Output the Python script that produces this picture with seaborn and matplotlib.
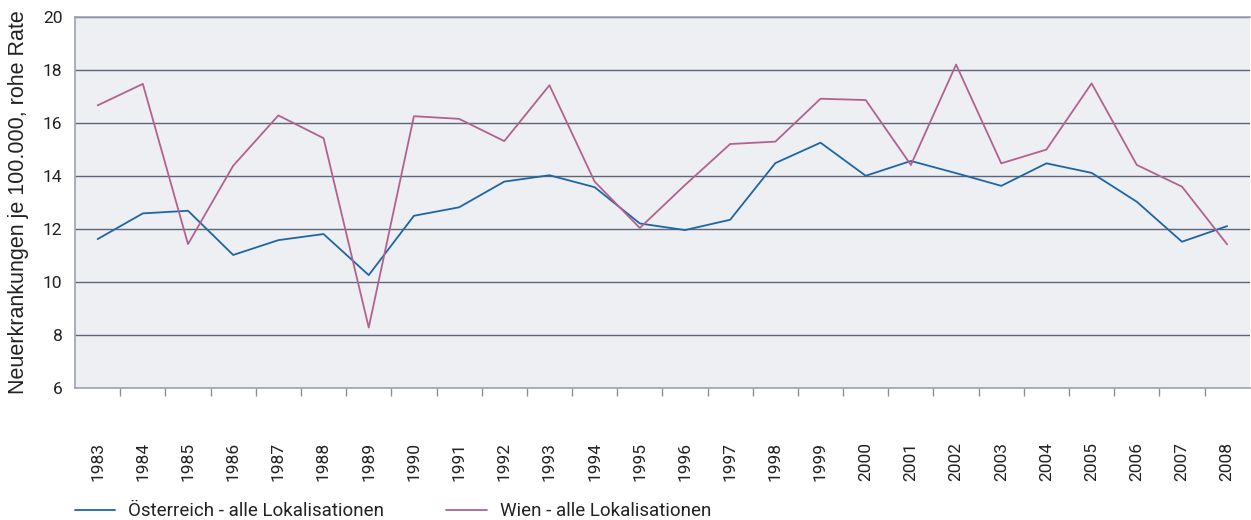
import matplotlib
matplotlib.use("Agg")
import matplotlib.pyplot as plt
from matplotlib.ticker import FixedLocator
from matplotlib.lines import Line2D
import seaborn as sns
import pandas as pd

years = list(range(1983, 2009))
oesterreich = [11.62, 12.59, 12.69, 11.02, 11.58, 11.81, 10.26, 12.50, 12.82, 13.79,
               14.03, 13.58, 12.21, 11.96, 12.35, 14.49, 15.26, 14.01, 14.57, 14.11,
               13.63, 14.48, 14.12, 13.03, 11.52, 12.11]
wien = [16.67, 17.48, 11.43, 14.39, 16.29, 15.43, 8.28, 16.26, 16.16, 15.32,
        17.43, 13.79, 12.04, 13.66, 15.21, 15.30, 16.92, 16.87, 14.42, 18.21,
        14.48, 15.00, 17.50, 14.42, 13.60, 11.42]
series_names = ["Österreich - alle Lokalisationen", "Wien - alle Lokalisationen"]
y_ticks = [6, 8, 10, 12, 14, 16, 18, 20]
y_label = "Neuerkrankungen je 100.000, rohe Rate"

df = pd.DataFrame({
    "idx": list(range(len(years))) * 2,
    "wert": oesterreich + wien,
    "serie": [series_names[0]] * len(years) + [series_names[1]] * len(years),
})

sns.set_theme(style="white")
plt.rcParams['font.family'] = ['DejaVu Sans']

fig = plt.figure(figsize=(12.51, 5.2), dpi=100)
ax = fig.add_axes([0.06, 0.254, 0.939, 0.713])
ax.set_facecolor("#eeeff3")

palette = {series_names[0]: "#1d66a3", series_names[1]: "#b2628f"}
sns.lineplot(data=df, x="idx", y="wert", hue="serie", palette=palette,
             linewidth=1.3, ax=ax, legend=False)

ax.set_xlim(-0.5, len(years) - 0.5)
ax.set_ylim(6, 20)
ax.set_yticks(y_ticks)
ax.set_yticklabels([str(t) for t in y_ticks], fontsize=12.5, color="#222222", family="Roboto")
ax.yaxis.grid(True, color="#5f6577", linewidth=1.0)
ax.set_axisbelow(True)
ax.xaxis.grid(False)

ax.set_xticks(range(len(years)))
ax.set_xticklabels([str(y) for y in years], rotation=90, fontsize=12.5,
                   color="#222222", family="Roboto")
ax.xaxis.set_minor_locator(FixedLocator([i - 0.5 for i in range(1, len(years))]))
ax.tick_params(axis="x", which="major", length=0, pad=39)
ax.tick_params(axis="x", which="minor", length=6, color="#8a8f9c", width=1, direction="out", bottom=True)
ax.tick_params(axis="y", which="major", length=0, pad=9)

for side in ["left", "bottom", "top"]:
    ax.spines[side].set_color("#9ea3ae")
    ax.spines[side].set_linewidth(1.2)
ax.spines["right"].set_visible(False)

ax.set_xlabel("")
ax.set_ylabel(y_label, fontsize=15.5, color="#222222", family="Liberation Sans", labelpad=10)

handles = [Line2D([], [], color=palette[n], linewidth=1.3) for n in series_names]
leg = fig.legend(handles, series_names, loc="center left", bbox_to_anchor=(0.06, 0.017),
                 ncol=2, frameon=False, handlelength=2.15, handletextpad=0.7,
                 columnspacing=3.3, borderpad=0, borderaxespad=0,
                 prop={"family": "Roboto", "size": 13.5})
for t in leg.get_texts():
    t.set_color("#222222")

fig.savefig("out.png", dpi=100)
